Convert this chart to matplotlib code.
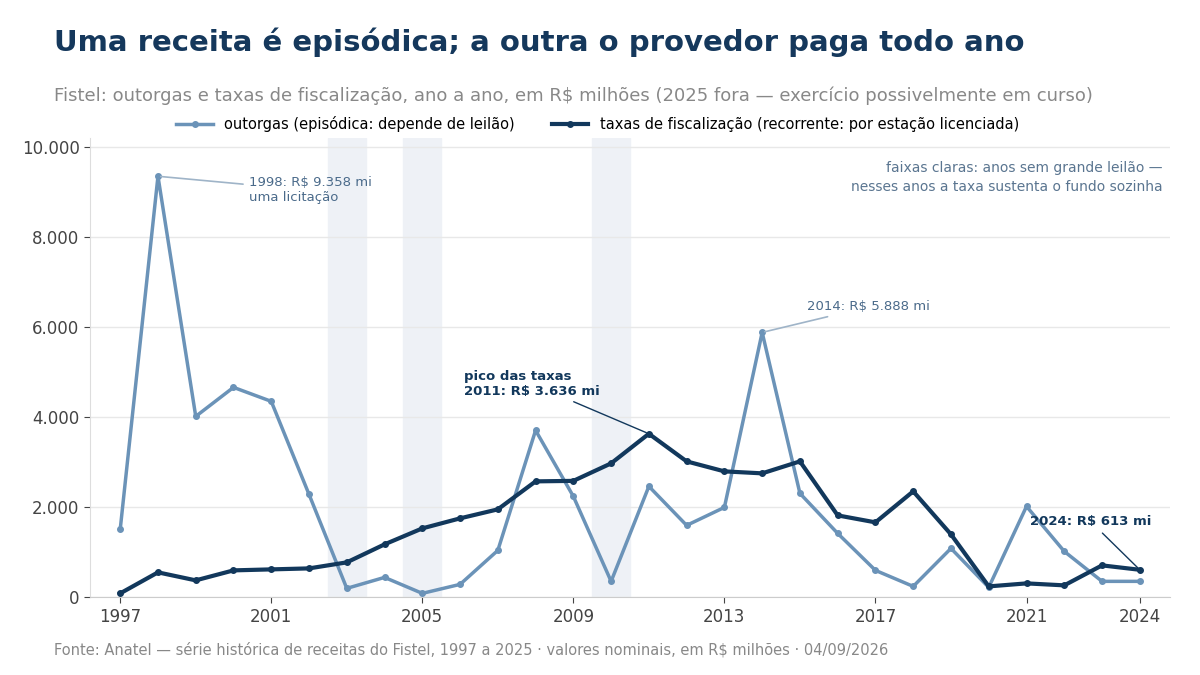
import numpy as np
import matplotlib.pyplot as plt
from matplotlib.ticker import FuncFormatter

years = np.arange(1997, 2025)
outorgas = [1511, 9358, 4022, 4667, 4356, 2289, 200, 444, 89, 289, 1044, 3711, 2244, 356,
            2467, 1600, 2000, 5888, 2311, 1422, 600, 244, 1089, 222, 2022, 1022, 356, 356]
taxas = [89, 556, 378, 600, 622, 644, 778, 1178, 1533, 1756, 1956, 2578, 2589, 2978,
         3636, 3022, 2800, 2756, 3022, 1822, 1667, 2356, 1400, 244, 311, 267, 711, 613]
anos_sem_leilao = [2003, 2005, 2010]
xticks = [1997, 2001, 2005, 2009, 2013, 2017, 2021, 2024]

c_out = "#6b93b8"
c_tax = "#12385c"

fig = plt.figure(figsize=(12, 6.75), dpi=100)
ax = fig.add_axes([0.075, 0.115, 0.9, 0.68])

for a in anos_sem_leilao:
    ax.axvspan(a - 0.5, a + 0.5, color="#eef1f6", zorder=0)

ax.plot(years, outorgas, color=c_out, lw=2.5, marker="o", ms=4,
        label="outorgas (episódica: depende de leilão)", zorder=3)
ax.plot(years, taxas, color=c_tax, lw=3, marker="o", ms=4,
        label="taxas de fiscalização (recorrente: por estação licenciada)", zorder=4)

ax.set_xlim(1996.2, 2024.8)
ax.set_ylim(0, 10200)
ax.set_xticks(xticks)
ax.set_yticks(range(0, 10001, 2000))
ax.yaxis.set_major_formatter(FuncFormatter(lambda v, p: f"{int(v):,}".replace(",", ".")))
ax.tick_params(labelsize=12, colors="#444444", length=4)
ax.grid(axis="y", color="#e8e8e8", lw=1)
ax.set_axisbelow(True)
for s in ["top", "right"]:
    ax.spines[s].set_visible(False)
ax.spines["left"].set_color("#dddddd")
ax.spines["bottom"].set_color("#cccccc")

ax.legend(loc="lower center", bbox_to_anchor=(0.47, 0.985), ncol=2, frameon=False,
          fontsize=10.5, handlelength=2.5, columnspacing=2.5)

ax.annotate("1998: R$ 9.358 mi\numa licitação", xy=(1998, 9358), xytext=(2000.4, 8800),
            fontsize=9.5, color="#4a6a8a",
            arrowprops=dict(arrowstyle="-", color="#9fb4c8", lw=1.2))
ax.annotate("2014: R$ 5.888 mi", xy=(2014, 5888), xytext=(2015.2, 6380),
            fontsize=9.5, color="#4a6a8a",
            arrowprops=dict(arrowstyle="-", color="#9fb4c8", lw=1.2))
ax.annotate("pico das taxas\n2011: R$ 3.636 mi", xy=(2011, 3636), xytext=(2006.1, 4500),
            fontsize=9.5, color=c_tax, fontweight="bold",
            arrowprops=dict(arrowstyle="-", color=c_tax, lw=1))
ax.annotate("2024: R$ 613 mi", xy=(2024, 613), xytext=(2021.1, 1600),
            fontsize=9.5, color=c_tax, fontweight="bold",
            arrowprops=dict(arrowstyle="-", color=c_tax, lw=1))
ax.text(0.9935, 0.95, "faixas claras: anos sem grande leilão —\nnesses anos a taxa sustenta o fundo sozinha",
        transform=ax.transAxes, ha="right", va="top", fontsize=10, color="#5a7590",
        linespacing=1.4)

fig.text(0.045, 0.925, "Uma receita é episódica; a outra o provedor paga todo ano",
         fontsize=21, fontweight="bold", color="#15385c")
fig.text(0.045, 0.85, "Fistel: outorgas e taxas de fiscalização, ano a ano, em R$ milhões (2025 fora — exercício possivelmente em curso)",
         fontsize=13, color="#888888")
fig.text(0.045, 0.03, "Fonte: Anatel — série histórica de receitas do Fistel, 1997 a 2025 · valores nominais, em R$ milhões · 04/09/2026",
         fontsize=10.5, color="#888888")

fig.savefig("out.png")
